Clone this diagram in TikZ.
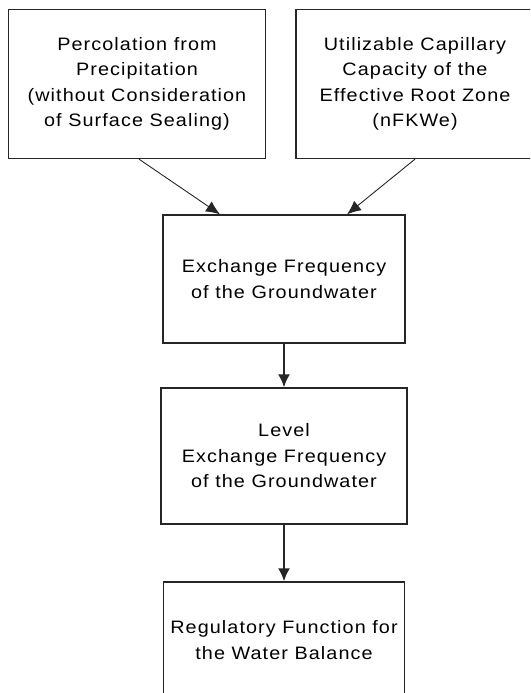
\documentclass[tikz,border=0pt]{standalone}
\usepackage{fontspec}
\setmainfont{Liberation Sans}[FakeStretch=1.1,LetterSpace=6]
\usetikzlibrary{arrows.meta}

\begin{document}
\begin{tikzpicture}[x=1pt,y=-1pt,
  factor/.style={draw=black!85,line width=1.3pt,align=center,inner sep=0pt,
    font=\fontsize{18}{25.5}\selectfont},
  thinarrow/.style={draw=black!85,line width=0.9pt,-{Latex[length=14pt,width=12pt]}},
  thickarrow/.style={draw=black!85,line width=2pt,-{Latex[length=13pt,width=12pt]}}]

% page, the right and lower boxes run off it
\useasboundingbox (0,0) rectangle (530,693);
\fill[white] (0,0) rectangle (530,693);
\clip (0,0) rectangle (530,693);

% input factors
\node[factor,minimum width=257pt,minimum height=149pt] (perc) at (137,84)
  {Percolation from\\Precipitation\\(without Consideration\\of Surface Sealing)};
\node[factor,minimum width=238pt,minimum height=149pt] (capac) at (415,84)
  {Utilizable Capillary\\Capacity of the\\Effective Root Zone\\(nFKWe)};

% derived factors
\node[factor,minimum width=242pt,minimum height=128pt] (exch) at (284,279)
  {Exchange Frequency\\of the Groundwater};
\node[factor,minimum width=246pt,minimum height=136pt] (level) at (284,456)
  {Level\\Exchange Frequency\\of the Groundwater};
\node[factor,minimum width=241pt,minimum height=116pt] (regul) at (284,640)
  {Regulatory Function for\\the Water Balance};

% connections
\draw[thinarrow] ([xshift=2pt]perc.south) -- ([xshift=-64pt]exch.north);
\draw[thinarrow] (capac.south) -- ([xshift=63pt]exch.north);

\draw[thickarrow] (exch.south) -- (level.north);
\draw[thickarrow] (level.south) -- (regul.north);
\end{tikzpicture}
\end{document}
